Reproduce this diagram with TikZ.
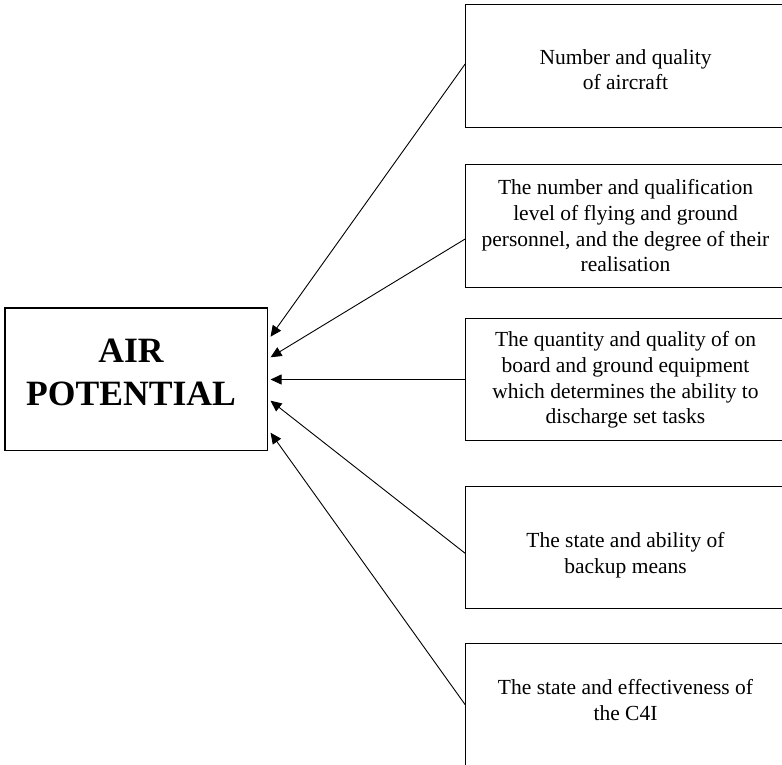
\documentclass[tikz,border=0pt]{standalone}
\usepackage{fontspec}
\setmainfont{Liberation Serif}
\usetikzlibrary{arrows.meta,calc}
\begin{document}
\begin{tikzpicture}[x=1pt,y=-1pt,
  panel/.style={draw, line width=1.1pt, rectangle, inner sep=0pt,
    minimum width=318.3pt, minimum height=122.5pt},
  caption/.style={align=center, inner sep=0pt,
    font=\fontsize{21.5}{25.8}\selectfont},
  link/.style={line width=0.9pt, -{Triangle[length=11pt,width=10pt]}}]
\clip (0,0) rectangle (782,765);
\fill[white] (0,0) rectangle (782,765);

% central box
\node[draw, line width=1.1pt, rectangle, inner sep=0pt,
  minimum width=262.3pt, minimum height=142.7pt] (hub) at (136.15,379.35) {};
\node[align=center, inner sep=0pt,
  font=\bfseries\fontsize{35.6}{42.7}\selectfont] (hubtext) at (131,372.4)
  {AIR\\POTENTIAL};

% factor boxes
\node[panel] (r1) at (624.85,66) {};
\node[panel] (r2) at (624.85,226.15) {};
\node[panel] (r3) at (624.85,379.5) {};
\node[panel] (r4) at (624.85,547.5) {};
\node[panel] (r5) at (624.85,704.65) {};

\node[caption] (c1) at (625.5,69.65) {Number and quality\\of aircraft};
\node[caption] (c2) at (625.5,225.65) {The number and qualification\\level of flying and ground\\personnel, and the degree of their\\realisation};
\node[caption] (c3) at (625.5,380) {The quantity and quality of on\\board and ground equipment\\which determines the ability to\\discharge set tasks};
\node[caption] (c4) at (625.5,555.5) {The state and ability of\\backup means};
\node[caption] (c5) at (625.5,699.8) {The state and effectiveness of\\the C4I};

% connectors
\draw[link] ([yshift=2pt]r1.west) -- ([xshift=2.7pt,yshift=42.65pt]hub.east);
\draw[link] ([yshift=-12.85pt]r2.west) -- ([xshift=2.7pt,yshift=22.05pt]hub.east);
\draw[link] (r3.west) -- ([xshift=2.7pt]hub.east |- r3.west);
\draw[link] ([yshift=-5.8pt]r4.west) -- ([xshift=2.7pt,yshift=-21.35pt]hub.east);
\draw[link] (r5.west) -- ([xshift=2.7pt,yshift=-53.35pt]hub.east);
\end{tikzpicture}
\end{document}
